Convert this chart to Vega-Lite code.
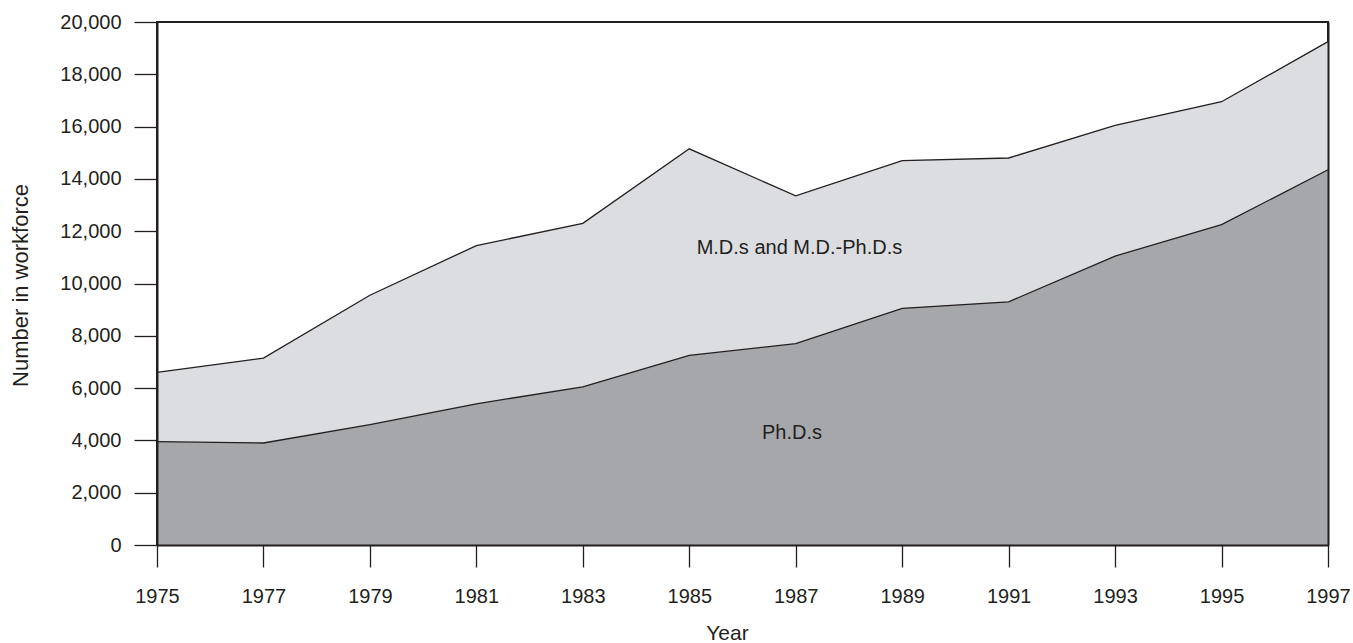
{
  "$schema": "https://vega.github.io/schema/vega-lite/v6.json",
  "autosize": "none",
  "width": 1171,
  "height": 523,
  "padding": {"left": 157, "top": 22, "right": 25, "bottom": 98},
  "background": "white",
  "config": {
    "view": {"stroke": "#231f20", "strokeWidth": 2},
    "font": "Liberation Sans",
    "axis": {
      "labelFont": "Liberation Sans",
      "titleFont": "Liberation Sans",
      "labelFontSize": 20,
      "titleFontSize": 20,
      "titleFontWeight": "normal",
      "labelColor": "#231f20",
      "titleColor": "#231f20",
      "tickColor": "#231f20",
      "domainColor": "#231f20",
      "domainWidth": 2,
      "tickWidth": 1.3,
      "grid": false
    }
  },
  "datasets": {
    "workforce": [
      {"year": 1975, "phd": 3950, "total": 6600},
      {"year": 1977, "phd": 3900, "total": 7150},
      {"year": 1979, "phd": 4600, "total": 9550},
      {"year": 1981, "phd": 5400, "total": 11450},
      {"year": 1983, "phd": 6050, "total": 12300},
      {"year": 1985, "phd": 7250, "total": 15150},
      {"year": 1987, "phd": 7700, "total": 13350},
      {"year": 1989, "phd": 9050, "total": 14700},
      {"year": 1991, "phd": 9300, "total": 14800},
      {"year": 1993, "phd": 11050, "total": 16050},
      {"year": 1995, "phd": 12250, "total": 16950},
      {"year": 1997, "phd": 14350, "total": 19250}
    ],
    "labels": [
      {"year": 1987.07, "value": 11340, "label": "M.D.s and M.D.-Ph.D.s"},
      {"year": 1986.93, "value": 4280, "label": "Ph.D.s"}
    ]
  },
  "resolve": {"axis": {"y": "independent"}},
  "layer": [
    {
      "data": {"name": "workforce"},
      "mark": {"type": "area", "color": "#dcdde0", "opacity": 1, "line": {"color": "#231f20", "strokeWidth": 1.3}},
      "encoding": {
        "x": {
          "field": "year", "type": "quantitative",
          "scale": {"domain": [1975, 1997], "nice": false, "zero": false},
          "axis": {
            "values": [1975, 1977, 1979, 1981, 1983, 1985, 1987, 1989, 1991, 1993, 1995, 1997],
            "format": "d", "title": "Year", "tickSize": 22, "labelPadding": 19,
            "titleBaseline": "alphabetic", "titleY": 94, "titleX": 570, "titleAlign": "center", "titleFontSize": 21,
            "labelFlush": false, "zindex": 2
          }
        },
        "y": {
          "field": "total", "type": "quantitative",
          "scale": {"domain": [0, 20000], "nice": false},
          "axis": {
            "values": [0, 2000, 4000, 6000, 8000, 10000, 12000, 14000, 16000, 18000, 20000],
            "format": ",d", "title": "Number in workforce", "tickSize": 23, "labelPadding": 13,
            "titleBaseline": "alphabetic", "titleX": -130, "titleY": 263, "titleFontSize": 22,
            "labelFlush": false, "zindex": 2
          }
        }
      }
    },
    {
      "data": {"name": "workforce"},
      "mark": {"type": "area", "color": "#a6a7aa", "opacity": 1, "line": {"color": "#231f20", "strokeWidth": 1.3}},
      "encoding": {
        "x": {"field": "year", "type": "quantitative"},
        "y": {
          "field": "phd", "type": "quantitative",
          "axis": {"orient": "right", "labels": false, "ticks": false, "title": null, "domain": true, "zindex": 2}
        }
      }
    },
    {
      "data": {"name": "labels"},
      "mark": {"type": "text", "fontSize": 20, "font": "Liberation Sans", "color": "#231f20", "align": "center", "baseline": "middle"},
      "encoding": {
        "x": {"field": "year", "type": "quantitative"},
        "y": {"field": "value", "type": "quantitative", "axis": null},
        "text": {"field": "label"}
      }
    }
  ]
}
